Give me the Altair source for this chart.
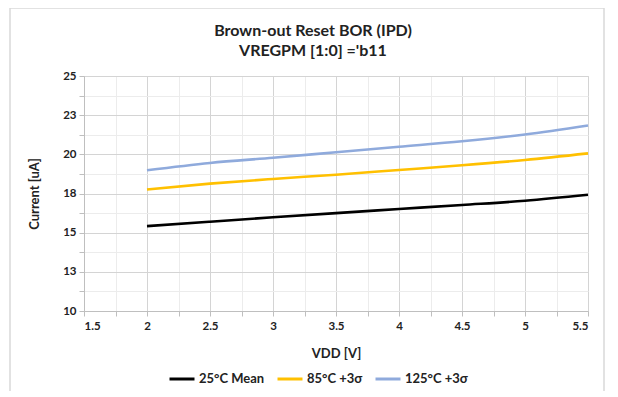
import altair as alt
import pandas as pd

vdd = [2.0, 2.5, 3.0, 3.5, 4.0, 4.5, 5.0, 5.5]
mean_25 = [15.42, 15.70, 15.98, 16.25, 16.51, 16.77, 17.04, 17.42]
sigma_85 = [17.76, 18.13, 18.43, 18.70, 19.00, 19.30, 19.64, 20.06]
sigma_125 = [18.98, 19.45, 19.78, 20.13, 20.48, 20.83, 21.27, 21.84]

series_names = ["25°C Mean", "85°C +3σ", "125°C +3σ"]
series_colors = ["#000000", "#FFC000", "#8FAADC"]

x_ticks = [1.5 + 0.25 * i for i in range(17)]
y_ticks = [10 + 1.25 * i for i in range(13)]

rows = []
for name, vals in zip(series_names, [mean_25, sigma_85, sigma_125]):
    for v, c in zip(vdd, vals):
        rows.append({"VDD": v, "Current": c, "Series": name})
df = pd.DataFrame(rows)

FONT = "Lato"
XMAJ = "abs(datum.value*2 - round(datum.value*2)) < 0.001"
YMAJ = "abs(datum.value/2.5 - round(datum.value/2.5)) < 0.001"

lines = alt.Chart(df).mark_line(strokeWidth=2.6, interpolate="monotone").encode(
    x=alt.X("VDD:Q", scale=alt.Scale(domain=[1.5, 5.5], nice=False),
            axis=alt.Axis(values=x_ticks, title="VDD [V]",
                          labelExpr=XMAJ + " ? format(datum.value, '~g') : ''",
                          gridColor={"condition": {"test": XMAJ, "value": "#d4d4d4"}, "value": "#ececec"},
                          gridWidth=1, domainColor="#bfbfbf", tickColor="#bfbfbf", tickSize=5,
                          labelFont=FONT, labelFontSize=11.5, labelFontWeight="bold", labelColor="#222222",
                          labelPadding=4,
                          titleFont=FONT, titleFontSize=13, titleFontWeight="bold", titleColor="#222222",
                          titlePadding=16)),
    y=alt.Y("Current:Q", scale=alt.Scale(domain=[10, 25], nice=False),
            axis=alt.Axis(values=y_ticks, title="Current [uA]",
                          labelExpr=YMAJ + " ? format(datum.value, '.0f') : ''",
                          gridColor={"condition": {"test": YMAJ, "value": "#d4d4d4"}, "value": "#ececec"},
                          gridWidth=1, domainColor="#bfbfbf", tickColor="#bfbfbf", tickSize=5,
                          labelFont=FONT, labelFontSize=11.5, labelFontWeight="bold", labelColor="#222222",
                          labelPadding=3,
                          titleFont=FONT, titleFontSize=13, titleFontWeight="bold", titleColor="#222222",
                          titlePadding=21)),
    color=alt.Color("Series:N", scale=alt.Scale(domain=series_names, range=series_colors),
                    sort=series_names,
                    legend=alt.Legend(title=None, orient="none", direction="horizontal",
                                      legendX=84, legendY=289,
                                      symbolType="stroke", symbolStrokeWidth=3, symbolSize=625,
                                      labelFont=FONT, labelFontSize=13, labelFontWeight="bold",
                                      labelColor="#222222", labelOffset=3, columnPadding=6)),
)

frame = alt.Chart(pd.DataFrame({"a": [0]})).mark_rect(
    fill=None, stroke="#d9d9d9", strokeWidth=1.5, clip=False
).encode(x=alt.value(-74), x2=alt.value(520), y=alt.value(-68), y2=alt.value(400))

chart = alt.layer(frame, lines).properties(
    width=504, height=235,
    autosize=alt.AutoSizeParams(type="none"),
    padding={"left": 76, "top": 68, "right": 22, "bottom": 80},
    title=alt.TitleParams(
        text=["Brown-out Reset BOR (IPD)", "VREGPM [1:0] ='b11"],
        font=FONT, fontSize=16, fontWeight="bold", color="#222222",
        anchor="middle", dx=-23, offset=-52, lineHeight=20,
    ),
).configure_view(stroke="#d4d4d4")

chart.save("out.html", embed_options={"renderer": "svg", "actions": False})
